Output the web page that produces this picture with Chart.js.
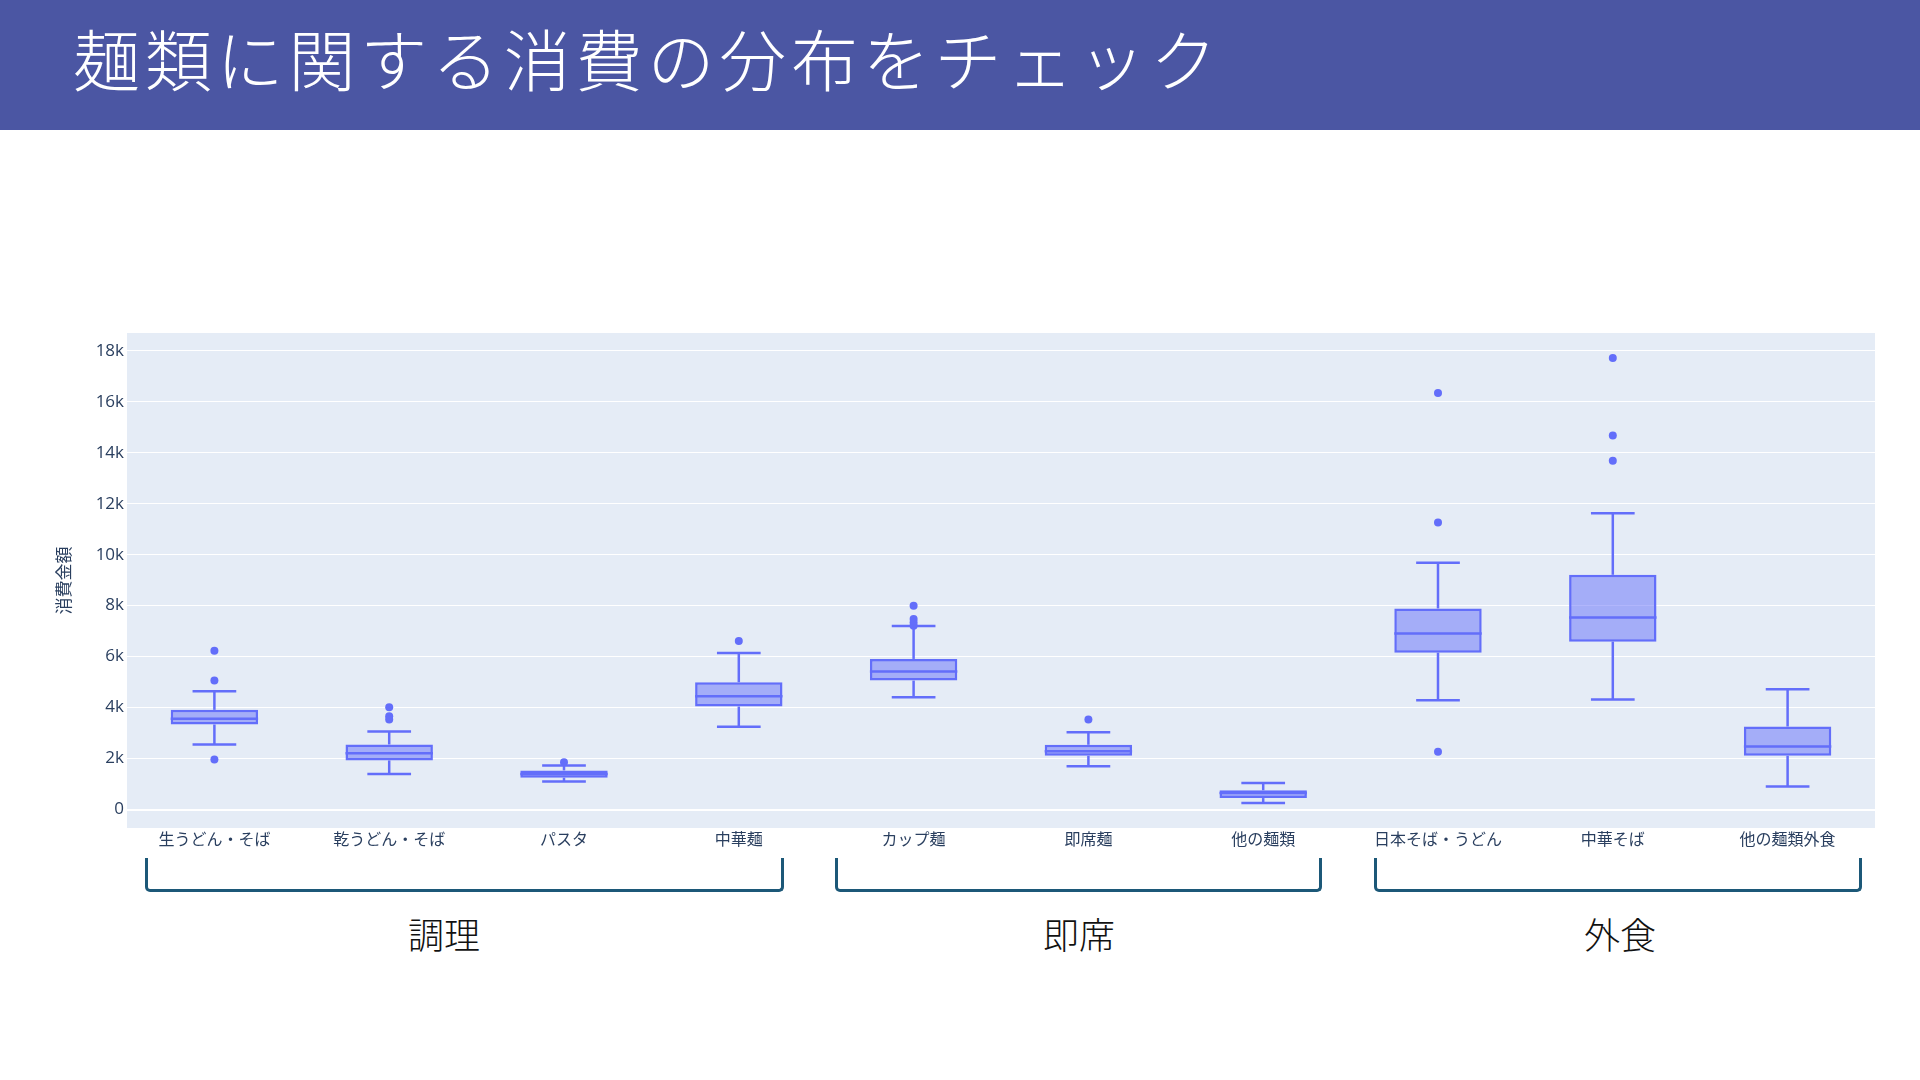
<!DOCTYPE html>
<html lang="ja">
<head>
<meta charset="utf-8">
<title>麺類に関する消費の分布をチェック</title>
<script src="https://cdn.jsdelivr.net/npm/chart.js@4.4.1/dist/chart.umd.min.js"></script>
<style>
  html, body { margin: 0; padding: 0; background: #fff; }
  #page { position: relative; width: 1920px; height: 1080px; overflow: hidden; background: #fff;
          font-family: "Noto Sans CJK JP", "Noto Sans", sans-serif; }
  #header { position: absolute; left: 0; top: 0; width: 1920px; height: 130px; background: #4b56a3; }
  #header h1 { position: absolute; left: 73px; top: 56px; transform: translateY(-50%); margin: 0;
               color: #fff; font-size: 67px; font-weight: 300; line-height: 1; letter-spacing: 4.8px;
               white-space: nowrap; }
  #plot { position: absolute; left: 55px; top: 329px; width: 1824px; height: 539px; }
  .bracket { position: absolute; top: 858px; height: 31px; border: 3px solid #1c5878; border-top: none;
             border-radius: 0 0 5px 5px; }
  .group { position: absolute; top: 933px; transform: translate(-50%, -50%); font-size: 36px;
           font-weight: 300; color: #111; white-space: nowrap; }
</style>
</head>
<body>
<div id="page">
  <div id="header"><h1>麺類に関する消費の分布をチェック</h1></div>
  <div id="plot"><canvas id="boxChart"></canvas></div>

  <div class="bracket" style="left:145px; width:633px;"></div>
  <div class="bracket" style="left:835px; width:481px;"></div>
  <div class="bracket" style="left:1374px; width:482px;"></div>
  <div class="group" style="left:444px;">調理</div>
  <div class="group" style="left:1079px;">即席</div>
  <div class="group" style="left:1620px;">外食</div>
</div>

<script>
(function () {
  "use strict";

  /* ── data ────────────────────────────────────────────────────── */
  const categories = ["生うどん・そば", "乾うどん・そば", "パスタ", "中華麺", "カップ麺",
                      "即席麺", "他の麺類", "日本そば・うどん", "中華そば", "他の麺類外食"];
  const whiskerLow  = [2556, 1394, 1108, 3248, 4407, 1706,  258, 4290,  4317,  912];
  const q1          = [3339, 1930, 1252, 4043, 5061, 2113,  454, 6157,  6588, 2113];
  const median      = [3561, 2216, 1393, 4447, 5413, 2294,  650, 6912,  7539, 2478];
  const q3          = [3913, 2556, 1538, 4995, 5910, 2544,  760, 7891,  9210, 3260];
  const whiskerHigh = [4643, 3064, 1734, 6145, 7200, 3037, 1041, 9679, 11624, 4721];
  const outliers = [
    [6235, 5061, 1969],
    [4016, 3664, 3534],
    [1863],
    [6614],
    [8000, 7476, 7343, 7213],
    [3534],
    [],
    [16344, 11257, 2270],
    [17715, 14678, 13684],
    [],
  ];
  const yTicks = [0, 2000, 4000, 6000, 8000, 10000, 12000, 14000, 16000, 18000];
  const yMin = -720;
  const yMax = 18693;

  const lineColor = "#636efa";
  const fillColor = "rgba(99,110,250,0.5)";
  const axisText  = "#2a3f5f";
  const plotBg    = "#e5ecf6";
  const fontFamily = "'Open Sans', 'Noto Sans CJK JP', sans-serif";

  const outlierPoints = outliers.flatMap((vals, i) => vals.map((v) => ({ x: categories[i], y: v })));

  // plot background behind the grid
  const plotBackground = {
    id: "plotBackground",
    beforeDraw(chart) {
      const { ctx, chartArea: a } = chart;
      ctx.save();
      ctx.fillStyle = plotBg;
      ctx.fillRect(a.left, a.top, a.right - a.left, a.bottom - a.top);
      ctx.restore();
    },
  };

  // whiskers, caps and median lines, positioned from the bar elements + y scale
  const boxParts = {
    id: "boxParts",
    afterDatasetsDraw(chart) {
      const { ctx } = chart;
      const y = chart.scales.y;
      const bars = chart.getDatasetMeta(0).data;
      ctx.save();
      ctx.strokeStyle = lineColor;
      ctx.lineWidth = 2.5;
      bars.forEach((bar, i) => {
        const cx = bar.x;
        const half = bar.width / 2;
        const cap = half / 2;
        const seg = (x0, y0, x1, y1) => {
          ctx.beginPath();
          ctx.moveTo(x0, y0);
          ctx.lineTo(x1, y1);
          ctx.stroke();
        };
        seg(cx, y.getPixelForValue(q3[i]), cx, y.getPixelForValue(whiskerHigh[i]));
        seg(cx, y.getPixelForValue(q1[i]), cx, y.getPixelForValue(whiskerLow[i]));
        seg(cx - cap, y.getPixelForValue(whiskerHigh[i]), cx + cap, y.getPixelForValue(whiskerHigh[i]));
        seg(cx - cap, y.getPixelForValue(whiskerLow[i]), cx + cap, y.getPixelForValue(whiskerLow[i]));
        seg(cx - half, y.getPixelForValue(median[i]), cx + half, y.getPixelForValue(median[i]));
      });
      ctx.restore();
    },
  };

  new Chart(document.getElementById("boxChart"), {
    type: "bar",
    data: {
      labels: categories,
      datasets: [
        {
          type: "bar",
          data: categories.map((_, i) => [q1[i], q3[i]]),
          backgroundColor: fillColor,
          borderColor: lineColor,
          borderWidth: 2.5,
          borderSkipped: false,
          barPercentage: 0.5,
          categoryPercentage: 1.0,
          order: 2,
        },
        {
          type: "line",
          data: outlierPoints,
          showLine: false,
          pointRadius: 4,
          pointHoverRadius: 4,
          pointBackgroundColor: lineColor,
          pointBorderWidth: 0,
          order: 1,
        },
      ],
    },
    options: {
      responsive: true,
      maintainAspectRatio: false,
      animation: false,
      events: [],
      layout: { padding: 0 },
      plugins: { legend: { display: false }, tooltip: { enabled: false } },
      scales: {
        x: {
          type: "category",
          offset: true,
          grid: { display: false, drawTicks: false },
          border: { display: false },
          ticks: { color: axisText, padding: 3, maxRotation: 0, autoSkip: false,
                   font: { family: fontFamily, size: 16 } },
          afterFit: (s) => { s.height = 40; s.paddingLeft = 0; s.paddingRight = 0; },
        },
        y: {
          min: yMin,
          max: yMax,
          grid: { color: "#ffffff", drawTicks: false,
                  lineWidth: (c) => (c.tick && c.tick.value === 0 ? 2 : 1) },
          border: { display: false },
          ticks: { color: axisText, padding: 3, font: { family: fontFamily, size: 17 },
                   callback: (v) => (v === 0 ? "0" : v / 1000 + "k") },
          afterBuildTicks: (s) => { s.ticks = yTicks.map((v) => ({ value: v })); },
          afterFit: (s) => { s.width = 72; s.paddingTop = 0; s.paddingBottom = 0; },
          title: { display: true, text: "消費金額", color: axisText, padding: 0,
                   font: { family: fontFamily, size: 17 } },
        },
      },
    },
    plugins: [plotBackground, boxParts],
  });
})();
</script>
</body>
</html>
